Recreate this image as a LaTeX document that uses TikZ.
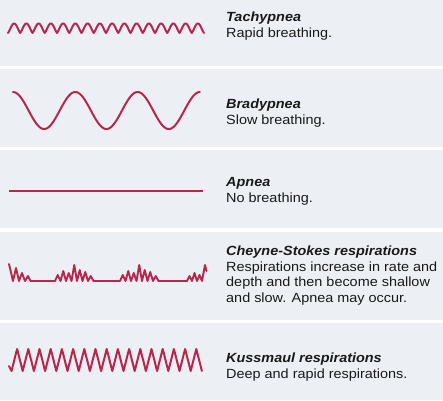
\documentclass[tikz,border=0pt]{standalone}
\usepackage{fontspec}
\setmainfont[FakeStretch=1.085]{Liberation Sans}
\definecolor{wave}{RGB}{183,38,77}
\definecolor{panel}{RGB}{236,240,245}
\definecolor{ink}{RGB}{25,25,25}
\begin{document}
\begin{tikzpicture}[x=1pt,y=-1pt,
  wavestyle/.style={draw=wave, line width=2pt, line join=round, line cap=round},
  title/.style={font=\fontsize{13.3}{15}\selectfont\bfseries\itshape, text=ink, anchor=base west, inner sep=0pt},
  desc/.style={font=\fontsize{13.3}{15}\selectfont, text=ink, anchor=base west, inner sep=0pt}]
\useasboundingbox (0,0) rectangle (443,400);
\fill[white] (0,0) rectangle (443,400);
\fill[panel] (0,0) rectangle (443,66);
\fill[panel] (0,69) rectangle (443,147);
\fill[panel] (0,150) rectangle (443,228);
\fill[panel] (0,232) rectangle (443,320);
\fill[panel] (0,323) rectangle (443,400);

% Tachypnea
\draw[wavestyle] plot[domain=0:16, samples=641] ({8+\x*12.25},{33-9.5*(0.6*abs(sin(180*\x))+0.2*(1-cos(360*\x)))});
\node[title] (t1) at (226,21) {Tachypnea};
\node[desc] (d1) at (226,37) {Rapid breathing.};

% Bradypnea
\draw[wavestyle] plot[domain=0:3, samples=301] ({13+\x*62.3},{110.5-18.5*cos(360*\x)});
\node[title] (t2) at (226,108) {Bradypnea};
\node[desc] (d2) at (226,124) {Slow breathing.};

% Apnea
\draw[wavestyle, line cap=butt] (9,191) -- (203,191);
\node[title] (t3) at (226,186) {Apnea};
\node[desc] (d3) at (226,202) {No breathing.};

% Cheyne-Stokes
\draw[wavestyle, line width=1.9pt] (9,264) -- (13,281) -- (16,268) -- (19,281) -- (22,273) -- (25,281) -- (28,276) -- (30.5,281) -- (55,281)
  \foreach \a in {6,10,8,16,11,9,5} { -- ++(2.75,-\a) -- ++(2.75,\a) } -- (120,281)
  \foreach \a in {6,10,8,16,11,9,5} { -- ++(2.75,-\a) -- ++(2.75,\a) } -- (187,281)
  \foreach \a in {5,8,6} { -- ++(2.5,-\a) -- ++(2.5,\a) } -- ++(3,-16) -- ++(1.5,6);
\node[title] (t4) at (226,255) {Cheyne-Stokes respirations};
\node[desc] (d4a) at (226,271) {Respirations increase in rate and};
\node[desc] (d4b) at (226,286.5) {depth and then become shallow};
\node[desc] (d4c) at (226,302) {and slow. Apnea may occur.};

% Kussmaul
\draw[wavestyle] (9,366) -- ++(2.5,5) \foreach \i in {1,...,17} { -- ++(5.6,-22) -- ++(5.6,22) };
\node[title] (t5) at (226,362) {Kussmaul respirations};
\node[desc] (d5) at (226,378) {Deep and rapid respirations.};
\end{tikzpicture}
\end{document}
